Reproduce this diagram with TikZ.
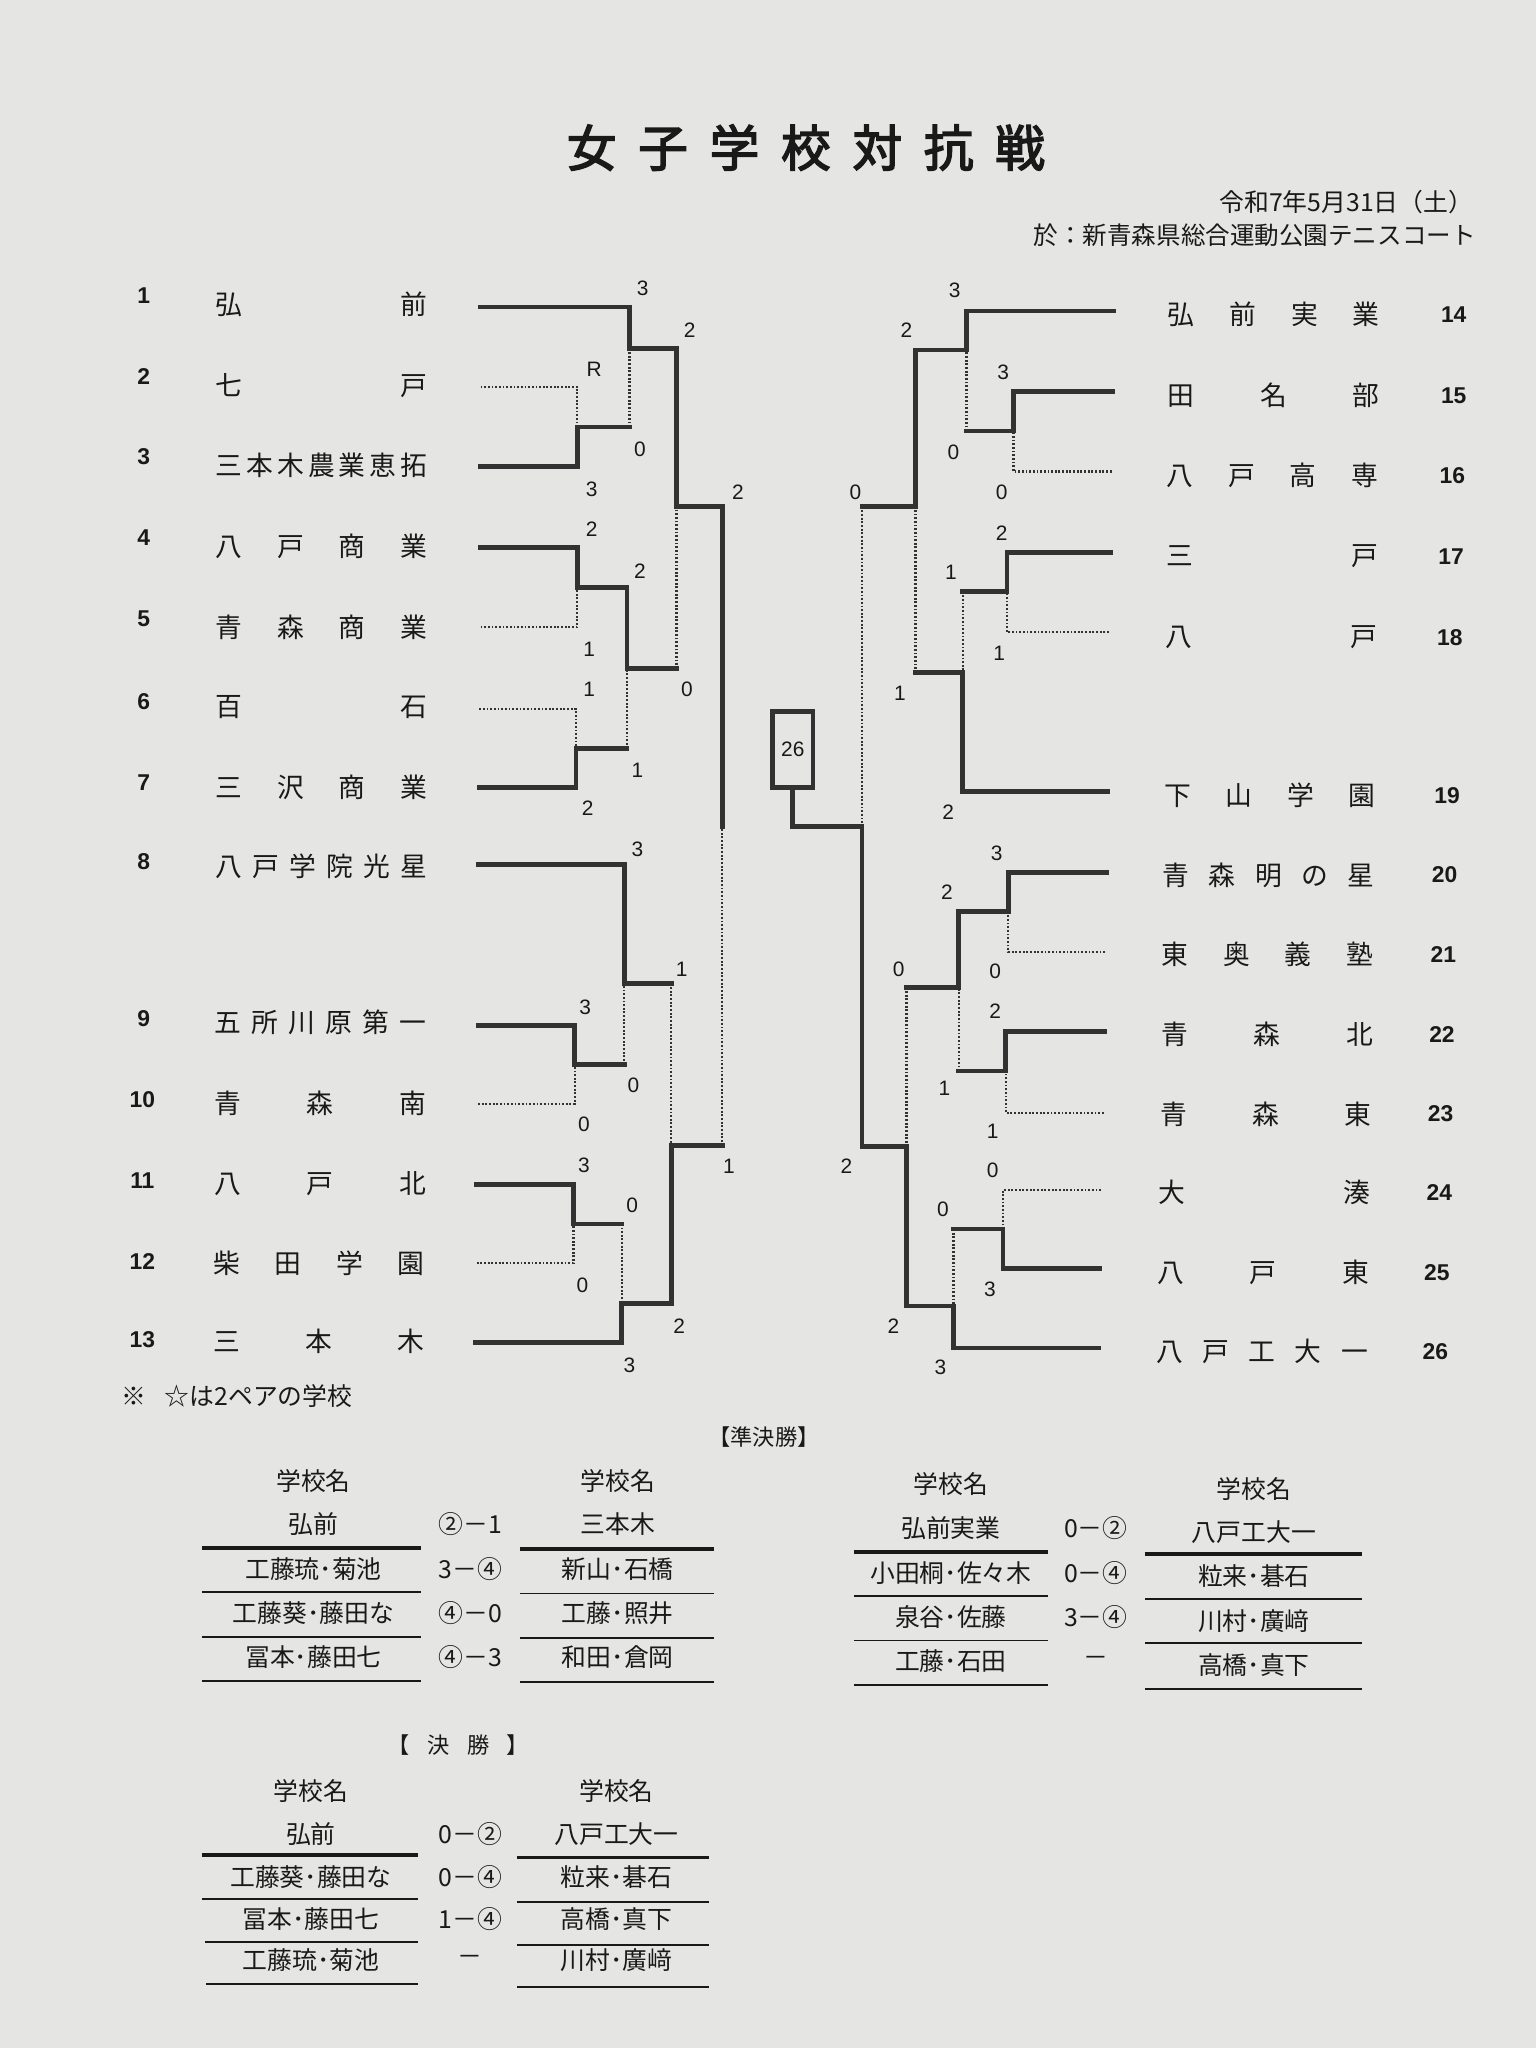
\documentclass[tikz,border=0pt]{standalone}
\usepackage{fontspec}
\setmainfont{Noto Sans CJK JP}
\newfontfamily\numfont{Liberation Sans}
\newfontfamily\titlefont{Noto Sans CJK JP}[FakeBold=3]
\definecolor{paper}{RGB}{229,229,227}
\definecolor{ink}{RGB}{25,25,25}
\definecolor{rule}{RGB}{50,50,50}
\newcommand{\spread}[1]{\hbox to 162pt{#1}}
\tikzstyle{win} = [line width=3.6pt, draw=rule, line cap=rect]
\tikzstyle{lose} = [line width=1.7pt, draw=rule, dash pattern=on 1.4pt off 1.4pt]
\tikzstyle{team} = [anchor=west, inner sep=0pt, text=ink, font=\fontsize{20.5}{20.5}\selectfont]
\tikzstyle{seed} = [inner sep=0pt, text=ink, font=\numfont\bfseries\fontsize{17.5}{17.5}\selectfont]
\tikzstyle{score} = [inner sep=0pt, text=ink, font=\numfont\fontsize{16}{16}\selectfont]
\tikzstyle{cell} = [inner sep=0pt, text=ink, font=\fontsize{19}{19}\selectfont]
\tikzstyle{thickrule} = [line width=2.8pt, draw=ink]
\tikzstyle{thinrule} = [line width=1.4pt, draw=ink]
\tikzstyle{champ} = [rectangle, draw=rule, line width=3.6pt, minimum width=31pt, minimum height=58pt, inner sep=0pt, text=ink, font=\numfont\fontsize{16}{16}\selectfont]

\begin{document}
\begin{tikzpicture}[x=1pt, y=-1pt]

\useasboundingbox (0,0) rectangle (1176,1568);
\fill[paper] (0,0) rectangle (1176,1568);

% Heading
\node[inner sep=0pt, text=ink, font=\titlefont\fontsize{38}{38}\selectfont] (title) at (617,113) {\hbox to 366pt{女\hfil 子\hfil 学\hfil 校\hfil 対\hfil 抗\hfil 戦}};
\node[anchor=east, inner sep=0pt, text=ink, font=\fontsize{19}{19}\selectfont] (date) at (1128,155) {令和7年5月31日（土）};
\node[anchor=east, inner sep=0pt, text=ink, font=\fontsize{18.8}{18.8}\selectfont] (venue) at (1130,180) {於：新青森県総合運動公園テニスコート};

% Left seeds
\node[seed] (s1) at (110,226) {1};
\node[seed] (s2) at (110,288) {2};
\node[seed] (s3) at (110,350) {3};
\node[seed] (s4) at (110,412) {4};
\node[seed] (s5) at (110,474) {5};
\node[seed] (s6) at (110,537) {6};
\node[seed] (s7) at (110,599) {7};
\node[seed] (s8) at (110,660) {8};
\node[seed] (s9) at (110,780) {9};
\node[seed] (s10) at (109,842) {10};
\node[seed] (s11) at (109,904) {11};
\node[seed] (s12) at (109,966) {12};
\node[seed] (s13) at (109,1026) {13};

% Left schools
\node[team] (t1) at (165,233) {\spread{弘\hfil 前}};
\node[team] (t2) at (165,295) {\spread{七\hfil 戸}};
\node[team] (t3) at (165,356) {\spread{三\hfil 本\hfil 木\hfil 農\hfil 業\hfil 恵\hfil 拓}};
\node[team] (t4) at (165,418) {\spread{八\hfil 戸\hfil 商\hfil 業}};
\node[team] (t5) at (165,480) {\spread{青\hfil 森\hfil 商\hfil 業}};
\node[team] (t6) at (165,541) {\spread{百\hfil 石}};
\node[team] (t7) at (165,603) {\spread{三\hfil 沢\hfil 商\hfil 業}};
\node[team] (t8) at (165,663) {\spread{八\hfil 戸\hfil 学\hfil 院\hfil 光\hfil 星}};
\node[team] (t9) at (164,783) {\spread{五\hfil 所\hfil 川\hfil 原\hfil 第\hfil 一}};
\node[team] (t10) at (164,845) {\spread{青\hfil 森\hfil 南}};
\node[team] (t11) at (164,906) {\spread{八\hfil 戸\hfil 北}};
\node[team] (t12) at (163,967) {\spread{柴\hfil 田\hfil 学\hfil 園}};
\node[team] (t13) at (163,1027) {\spread{三\hfil 本\hfil 木}};

% Right schools
\node[team] (t14) at (894,241) {\spread{弘\hfil 前\hfil 実\hfil 業}};
\node[team] (t15) at (894,303) {\spread{田\hfil 名\hfil 部}};
\node[team] (t16) at (893,364) {\spread{八\hfil 戸\hfil 高\hfil 専}};
\node[team] (t17) at (893,426) {\spread{三\hfil 戸}};
\node[team] (t18) at (892,488) {\spread{八\hfil 戸}};
\node[team] (t19) at (891,609) {\spread{下\hfil 山\hfil 学\hfil 園}};
\node[team] (t20) at (890,670) {\spread{青\hfil 森\hfil 明\hfil の\hfil 星}};
\node[team] (t21) at (889,731) {\spread{東\hfil 奥\hfil 義\hfil 塾}};
\node[team] (t22) at (889,792) {\spread{青\hfil 森\hfil 北}};
\node[team] (t23) at (888,853) {\spread{青\hfil 森\hfil 東}};
\node[team] (t24) at (887,913) {\spread{大\hfil 湊}};
\node[team] (t25) at (886,974) {\spread{八\hfil 戸\hfil 東}};
\node[team] (t26) at (885,1035) {\spread{八\hfil 戸\hfil 工\hfil 大\hfil 一}};

% Right seeds
\node[seed] (s14) at (1113,241) {14};
\node[seed] (s15) at (1113,303) {15};
\node[seed] (s16) at (1112,364) {16};
\node[seed] (s17) at (1111,426) {17};
\node[seed] (s18) at (1110,488) {18};
\node[seed] (s19) at (1108,609) {19};
\node[seed] (s20) at (1106,670) {20};
\node[seed] (s21) at (1105,731) {21};
\node[seed] (s22) at (1104,792) {22};
\node[seed] (s23) at (1103,853) {23};
\node[seed] (s24) at (1102,913) {24};
\node[seed] (s25) at (1100,974) {25};
\node[seed] (s26) at (1099,1035) {26};

% Left bracket
\coordinate (a1) at (368,235);
\coordinate (a2) at (368,296);
\coordinate (a3) at (368,357);
\coordinate (a4) at (368,419);
\coordinate (a5) at (368,480);
\coordinate (a6) at (367,543);
\coordinate (a7) at (367,603);
\coordinate (a8) at (366,662);
\coordinate (a9) at (366,785);
\coordinate (a10) at (366,845);
\coordinate (a11) at (365,907);
\coordinate (a12) at (365,967);
\coordinate (a13) at (364,1028);
\coordinate (mA) at (442,327);
\coordinate (mB) at (482,267);
\coordinate (mC) at (442,450);
\coordinate (mD) at (441,573);
\coordinate (mE) at (480,512);
\coordinate (mF) at (518,388);
\coordinate (mG) at (440,815);
\coordinate (mH) at (478,753);
\coordinate (mI) at (439,937);
\coordinate (mJ) at (476,998);
\coordinate (mK) at (514,877);
\coordinate (mL) at (553,633);

\draw[win] (a1) -| (mB);
\draw[lose] (a2) -| (mA);
\draw[win] (a3) -| (mA);
\draw[win] (mA) -- (mA -| mB); \draw[lose] (mA -| mB) -- (mB);
\draw[win] (a4) -| (mC);
\draw[lose] (a5) -| (mC);
\draw[lose] (a6) -| (mD);
\draw[win] (a7) -| (mD);
\draw[win] (mC) -| (mE);
\draw[win] (mD) -- (mD -| mE); \draw[lose] (mD -| mE) -- (mE);
\draw[win] (mB) -| (mF);
\draw[win] (mE) -- (mE -| mF); \draw[lose] (mE -| mF) -- (mF);
\draw[win] (a8) -| (mH);
\draw[win] (a9) -| (mG);
\draw[lose] (a10) -| (mG);
\draw[win] (mG) -- (mG -| mH); \draw[lose] (mG -| mH) -- (mH);
\draw[win] (a11) -| (mI);
\draw[lose] (a12) -| (mI);
\draw[win] (mI) -- (mI -| mJ); \draw[lose] (mI -| mJ) -- (mJ);
\draw[win] (a13) -| (mJ);
\draw[win] (mH) -- (mH -| mK); \draw[lose] (mH -| mK) -- (mK);
\draw[win] (mJ) -| (mK);
\draw[win] (mF) -| (mL);
\draw[win] (mK) -- (mK -| mL); \draw[lose] (mK -| mL) -- (mL);

% Right bracket
\coordinate (b14) at (853,238);
\coordinate (b15) at (852,300);
\coordinate (b16) at (851,361);
\coordinate (b17) at (850,423);
\coordinate (b18) at (849,484);
\coordinate (b19) at (848,606);
\coordinate (b20) at (847,668);
\coordinate (b21) at (846,729);
\coordinate (b22) at (846,790);
\coordinate (b23) at (845,852);
\coordinate (b24) at (843,911);
\coordinate (b25) at (842,971);
\coordinate (b26) at (841,1032);
\coordinate (mM) at (776,330);
\coordinate (mN) at (740,268);
\coordinate (mO) at (771,453);
\coordinate (mP) at (737,515);
\coordinate (mQ) at (701,388);
\coordinate (mR) at (772,698);
\coordinate (mS) at (770,820);
\coordinate (mT) at (734,756);
\coordinate (mU) at (768,941);
\coordinate (mV) at (730,1000);
\coordinate (mW) at (694,878);
\coordinate (mX) at (660,633);

\draw[win] (b14) -| (mN);
\draw[win] (b15) -| (mM);
\draw[lose] (b16) -| (mM);
\draw[win] (mM) -- (mM -| mN); \draw[lose] (mM -| mN) -- (mN);
\draw[win] (b17) -| (mO);
\draw[lose] (b18) -| (mO);
\draw[win] (mO) -- (mO -| mP); \draw[lose] (mO -| mP) -- (mP);
\draw[win] (b19) -| (mP);
\draw[win] (mN) -| (mQ);
\draw[win] (mP) -- (mP -| mQ); \draw[lose] (mP -| mQ) -- (mQ);
\draw[win] (b20) -| (mR);
\draw[lose] (b21) -| (mR);
\draw[win] (b22) -| (mS);
\draw[lose] (b23) -| (mS);
\draw[win] (mR) -| (mT);
\draw[win] (mS) -- (mS -| mT); \draw[lose] (mS -| mT) -- (mT);
\draw[lose] (b24) -| (mU);
\draw[win] (b25) -| (mU);
\draw[win] (mU) -- (mU -| mV); \draw[lose] (mU -| mV) -- (mV);
\draw[win] (b26) -| (mV);
\draw[win] (mT) -- (mT -| mW); \draw[lose] (mT -| mW) -- (mW);
\draw[win] (mV) -| (mW);
\draw[win] (mQ) -- (mQ -| mX); \draw[lose] (mQ -| mX) -- (mX);
\draw[win] (mW) -| (mX);

% Final
\node[champ] (champ) at (607,574) {26};
\draw[win] (champ.south) |- (mX);

% Left scores
\node[score] (sc1) at (492,221) {3};
\node[score] (sc2) at (528,253) {2};
\node[score] (sc3) at (455,283) {R};
\node[score] (sc4) at (490,344) {0};
\node[score] (sc5) at (453,375) {3};
\node[score] (sc6) at (565,377) {2};
\node[score] (sc7) at (453,405) {2};
\node[score] (sc8) at (490,437) {2};
\node[score] (sc9) at (451,497) {1};
\node[score] (sc10) at (451,528) {1};
\node[score] (sc11) at (526,528) {0};
\node[score] (sc12) at (488,590) {1};
\node[score] (sc13) at (450,619) {2};
\node[score] (sc14) at (488,650) {3};
\node[score] (sc15) at (522,742) {1};
\node[score] (sc16) at (448,771) {3};
\node[score] (sc17) at (485,831) {0};
\node[score] (sc18) at (447,861) {0};
\node[score] (sc19) at (447,892) {3};
\node[score] (sc20) at (558,893) {1};
\node[score] (sc21) at (484,923) {0};
\node[score] (sc22) at (446,984) {0};
\node[score] (sc23) at (520,1015) {2};
\node[score] (sc24) at (482,1045) {3};

% Right scores
\node[score] (sc25) at (731,222) {3};
\node[score] (sc26) at (694,253) {2};
\node[score] (sc27) at (768,285) {3};
\node[score] (sc28) at (730,346) {0};
\node[score] (sc29) at (767,377) {0};
\node[score] (sc30) at (655,377) {0};
\node[score] (sc31) at (767,408) {2};
\node[score] (sc32) at (728,438) {1};
\node[score] (sc33) at (765,500) {1};
\node[score] (sc34) at (689,531) {1};
\node[score] (sc35) at (726,622) {2};
\node[score] (sc36) at (763,653) {3};
\node[score] (sc37) at (725,683) {2};
\node[score] (sc38) at (688,742) {0};
\node[score] (sc39) at (762,744) {0};
\node[score] (sc40) at (762,774) {2};
\node[score] (sc41) at (723,833) {1};
\node[score] (sc42) at (760,866) {1};
\node[score] (sc43) at (648,893) {2};
\node[score] (sc44) at (760,896) {0};
\node[score] (sc45) at (722,926) {0};
\node[score] (sc46) at (758,987) {3};
\node[score] (sc47) at (684,1015) {2};
\node[score] (sc48) at (720,1047) {3};

% Note
\node[cell, anchor=west] (note) at (93,1069) {※\hspace{14pt}☆は2ペアの学校};

% Semifinal tables
\node[cell, font=\fontsize{17}{17}\selectfont] (semi) at (585,1100) {【準決勝】};

\node[cell] (sh1) at (240,1134) {学校名};
\node[cell] (sh2) at (473,1134) {学校名};
\node[cell] (sa1) at (240,1167) {弘前};
\node[cell] (sr1) at (360,1167) {②－1};
\node[cell] (sb1) at (473,1167) {三本木};
\node[cell] (sa2) at (240,1201) {工藤琉･菊池};
\node[cell] (sr2) at (360,1201) {3－④};
\node[cell] (sb2) at (473,1201) {新山･石橋};
\node[cell] (sa3) at (240,1235) {工藤葵･藤田な};
\node[cell] (sr3) at (360,1235) {④－0};
\node[cell] (sb3) at (473,1235) {工藤･照井};
\node[cell] (sa4) at (240,1269) {冨本･藤田七};
\node[cell] (sr4) at (360,1269) {④－3};
\node[cell] (sb4) at (473,1269) {和田･倉岡};
\draw[thickrule] (155,1185) -- (322,1185);
\draw[thickrule] (398,1186) -- (547,1186);
\draw[thinrule] (155,1219) -- (322,1219);
\draw[thinrule] (398,1220) -- (547,1220);
\draw[thinrule] (155,1253) -- (322,1253);
\draw[thinrule] (398,1254) -- (547,1254);
\draw[thinrule] (155,1287) -- (322,1287);
\draw[thinrule] (398,1288) -- (547,1288);

\node[cell] (th1) at (728,1136) {学校名};
\node[cell] (th2) at (960,1140) {学校名};
\node[cell] (ta1) at (728,1170) {弘前実業};
\node[cell] (tr1) at (839,1170) {0－②};
\node[cell] (tb1) at (960,1173) {八戸工大一};
\node[cell] (ta2) at (728,1204) {小田桐･佐々木};
\node[cell] (tr2) at (839,1204) {0－④};
\node[cell] (tb2) at (960,1207) {粒来･碁石};
\node[cell] (ta3) at (728,1238) {泉谷･佐藤};
\node[cell] (tr3) at (839,1238) {3－④};
\node[cell] (tb3) at (960,1241) {川村･廣﨑};
\node[cell] (ta4) at (728,1272) {工藤･石田};
\node[cell] (tr4) at (839,1272) {－};
\node[cell] (tb4) at (960,1275) {高橋･真下};
\draw[thickrule] (654,1188) -- (802,1188);
\draw[thickrule] (877,1190) -- (1043,1190);
\draw[thinrule] (654,1222) -- (802,1222);
\draw[thinrule] (877,1224) -- (1043,1224);
\draw[thinrule] (654,1256) -- (802,1256);
\draw[thinrule] (877,1258) -- (1043,1258);
\draw[thinrule] (654,1290) -- (802,1290);
\draw[thinrule] (877,1293) -- (1043,1293);

% Final table
\node[cell, font=\fontsize{17}{17}\selectfont] (fin) at (351,1336) {\hbox to 108pt{【\hfil 決\hfil 勝\hfil 】}};
\node[cell] (fh1) at (238,1371) {学校名};
\node[cell] (fh2) at (472,1371) {学校名};
\node[cell] (fa1) at (238,1404) {弘前};
\node[cell] (fr1) at (360,1404) {0－②};
\node[cell] (fb1) at (472,1404) {八戸工大一};
\node[cell] (fa2) at (238,1437) {工藤葵･藤田な};
\node[cell] (fr2) at (360,1437) {0－④};
\node[cell] (fb2) at (472,1437) {粒来･碁石};
\node[cell] (fa3) at (238,1469) {冨本･藤田七};
\node[cell] (fr3) at (360,1469) {1－④};
\node[cell] (fb3) at (472,1469) {高橋･真下};
\node[cell] (fa4) at (238,1501) {工藤琉･菊池};
\node[cell] (fr4) at (360,1501) {－};
\node[cell] (fb4) at (472,1501) {川村･廣﨑};
\draw[thickrule] (155,1420) -- (320,1420);
\draw[thickrule] (396,1422) -- (543,1422);
\draw[thinrule] (155,1454) -- (320,1454);
\draw[thinrule] (396,1456) -- (543,1456);
\draw[thinrule] (157,1487) -- (320,1487);
\draw[thinrule] (396,1489) -- (543,1489);
\draw[thinrule] (158,1519) -- (320,1519);
\draw[thinrule] (396,1521) -- (543,1521);

\end{tikzpicture}
\end{document}
